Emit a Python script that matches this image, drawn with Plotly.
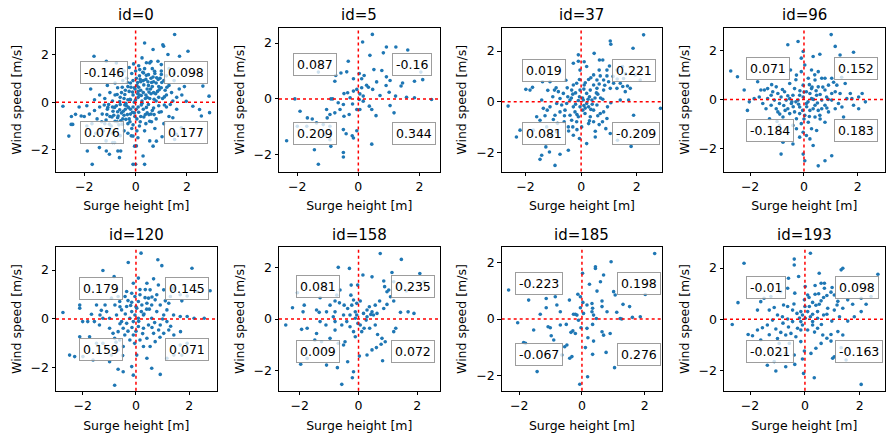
import plotly.graph_objects as go

# ---------------- data ----------------
panel_ids = [0, 5, 37, 96, 120, 158, 185, 193]

# quadrant labels: [top-left, top-right, bottom-left, bottom-right]
labels_id0 = ["-0.146", "0.098", "0.076", "0.177"]
labels_id5 = ["0.087", "-0.16", "0.209", "0.344"]
labels_id37 = ["0.019", "0.221", "0.081", "-0.209"]
labels_id96 = ["0.071", "0.152", "-0.184", "0.183"]
labels_id120 = ["0.179", "0.145", "0.159", "0.071"]
labels_id158 = ["0.081", "0.235", "0.009", "0.072"]
labels_id185 = ["-0.223", "0.198", "-0.067", "0.276"]
labels_id193 = ["-0.01", "0.098", "-0.021", "-0.163"]

tick_values = [-2, 0, 2]

# (surge height [m], wind speed [m/s])
points_id0 = [
    (1.52, 2.83), (0.35, 2.47), (0.68, 2.2), (1.06, 2.4), (2.04, 2.13), (1.71, 1.92), (-1.62, 1.92),
    (-1.14, 1.71), (-0.75, 1.64), (2.62, 0.67), (2.86, 0.25), (2.88, -0.44), (2.49, -0.31), (2.23, -0.17),
    (1.97, 0.04), (-2.83, -0.17), (-2.51, -0.93), (-2.6, -1.42), (-2.34, -0.51), (-2.12, -0.58), (-1.88, -2.04),
    (-1.69, -2.6), (-1.14, -2.04), (-0.82, -1.69), (-0.69, -2.04), (-0.58, -2.04), (-0.1, -2.6), (0.0, -2.6),
    (0.35, -2.6), (0.29, -2.25), (0.68, -1.84), (0.81, -1.63), (1.03, -1.45), (1.45, -0.65), (1.78, -1.07),
    (1.52, -1.56), (0.09, -1.49), (-0.1, -1.42), (-0.04, -1.84),
    (1.09, 2.34), (1.26, 1.99), (0.87, 1.71), (0.55, 1.64), (0.16, 1.36), (0.31, 1.22), (0.74, 1.29),
    (1.0, 1.16), (1.0, 1.57), (-2.45, -0.93), (-1.02, -2.18), (-0.63, -2.32), (0.55, -1.62), (1.59, -1.34),
    (2.56, -0.58), (-1.41, -1.9), (-1.15, -1.62), (-0.89, -1.69), (-0.17, -1.41), (0.03, -1.83),
    (0.1, 0.2), (0.2, 0.5), (0.3, 0.9), (0.4, 0.3), (0.5, 0.7), (0.6, 1.0), (0.7, 0.4), (0.8, 0.8),
    (0.9, 0.2), (1.0, 0.6), (1.1, 0.9), (1.2, 0.3), (1.3, 0.7), (0.15, 1.1), (0.25, 0.05), (0.45, 0.55),
    (0.55, 0.15), (0.65, 0.65), (0.75, 1.2), (0.85, 0.45), (0.95, 1.0), (1.05, 0.15), (1.15, 0.5), (1.4, 0.4),
    (1.5, 0.9), (1.6, 0.2), (0.05, 0.7), (0.35, 1.4), (0.2, 0.85), (0.6, 0.35), (0.4, 0.95), (0.8, 0.05),
    (0.3, 0.4), (0.5, 1.15), (0.7, 0.85), (1.0, 1.3), (1.2, 1.1), (0.1, 0.45), (0.9, 0.65), (1.7, 0.55),
    (1.8, 0.3), (0.45, 0.2), (0.15, 0.3), (0.65, 1.4),
    (-0.1, 0.3), (-0.2, 0.8), (-0.3, 0.1), (-0.4, 0.5), (-0.5, 0.9), (-0.6, 0.2), (-0.7, 0.6), (-0.8, 0.3),
    (-0.9, 0.05), (-1.0, 0.4), (-1.2, 0.15), (-0.15, 1.2), (-0.35, 1.0), (-0.25, 0.45), (-0.55, 0.4),
    (-0.05, 0.6), (-0.45, 0.15), (-0.65, 1.1), (-1.1, 0.7), (-1.4, 0.3), (-0.2, 0.1), (-0.8, 0.8),
    (-0.1, 0.9), (-0.3, 0.65),
    (-0.1, -0.2), (-0.2, -0.5), (-0.3, -0.9), (-0.4, -0.3), (-0.5, -0.7), (-0.6, -0.1), (-0.7, -0.4),
    (-0.8, -0.8), (-0.9, -0.2), (-1.0, -0.6), (-1.1, -0.3), (-1.2, -0.9), (-1.3, -0.5), (-1.4, -0.2),
    (-1.5, -0.7), (-1.6, -0.35), (-1.8, -0.5), (-1.9, -0.15), (-0.15, -1.1), (-0.35, -0.15), (-0.45, -1.2),
    (-0.55, -0.45), (-0.65, -0.95), (-0.75, -0.15), (-0.85, -0.55), (-0.95, -1.0), (-1.05, -0.1),
    (-1.15, -0.75), (-1.25, -1.2), (-0.25, -0.7), (-0.05, -0.45), (-0.6, -1.4), (-0.3, -1.3), (-0.1, -0.95),
    (-1.7, -0.9), (-2.0, -0.6), (-0.45, -0.55), (-0.9, -1.3), (-0.2, -0.3), (-0.7, -0.65),
    (0.1, -0.2), (0.2, -0.6), (0.3, -0.3), (0.4, -0.9), (0.5, -0.1), (0.6, -0.5), (0.7, -0.25), (0.8, -0.7),
    (0.9, -0.15), (1.0, -0.4), (1.1, -0.9), (1.2, -0.2), (0.15, -1.0), (0.35, -1.2), (0.55, -0.8),
    (0.25, -0.05), (0.45, -0.45), (1.3, -0.6), (0.75, -1.1), (0.05, -0.7), (0.65, -0.35), (1.6, -0.3),
    (0.0, 0.1), (0.02, -0.3), (-0.02, 0.55), (0.03, 1.0), (0.0, 1.3), (0.05, -1.2), (-0.03, -0.6),
    (0.08, 0.35), (-0.05, 0.0),
    (0.12, 0.62), (0.22, 0.28), (0.32, 0.72), (0.42, 1.12), (0.52, 0.42), (0.62, 0.82), (0.72, 0.12),
    (0.82, 1.02), (0.92, 0.52), (1.02, 0.82), (1.12, 0.22), (1.22, 0.62), (0.18, 0.95), (0.28, 1.25),
    (0.38, 0.15), (0.48, 0.85), (0.58, 0.55), (0.68, 1.05), (0.78, 0.35), (0.88, 0.95), (-0.12, 0.42),
    (-0.22, 0.12), (-0.32, 0.82), (-0.42, 0.32), (-0.52, 0.62), (-0.62, 0.02), (-0.72, 0.32), (-0.18, 0.62),
    (-0.38, -0.05), (-0.12, -0.42), (-0.22, -0.82), (-0.32, -0.52), (-0.42, -0.12), (-0.52, -0.92),
    (-0.62, -0.32), (-0.72, -0.82), (-0.82, -0.22), (-0.92, -0.62), (-1.02, -0.92), (-1.12, -0.52),
    (-1.22, -0.12), (-1.32, -0.82), (-0.28, -0.22), (-0.48, -0.38), (-0.68, -0.58), (-0.88, -0.38),
    (-1.08, -0.22), (-0.38, -0.72), (-0.58, -0.78), (0.12, -0.42), (0.22, -0.12), (0.32, -0.62),
    (0.42, -0.22), (0.52, -0.52), (0.62, -0.82), (0.72, -0.52), (0.92, -0.42), (1.12, -0.12), (0.18, -0.82),
    (0.38, -0.52), (0.08, 0.82), (0.12, 1.52), (-0.08, 1.6), (0.42, 1.65), (0.6, 1.7), (0.25, 1.85),
    (-0.25, 1.45), (-0.45, 1.3), (1.3, 1.4), (1.5, 1.2), (1.45, 0.05), (1.9, 0.65), (1.35, -0.1),
    (-1.35, -1.1), (-1.55, -1.3), (-1.9, -1.0), (-2.2, -0.2), (-1.6, 0.1), (-1.75, 0.55), (-2.5, -0.6),
]

points_id5 = [
    (0.46, 2.31), (0.14, 2.04), (1.23, 1.86), (0.92, 1.86), (0.82, 1.65), (1.62, 1.75), (0.38, 1.56),
    (-0.33, 1.35), (-0.38, 0.97), (-0.57, 0.93), (-1.31, 0.96), (0.51, 1.05), (0.77, 1.02), (0.03, 0.91),
    (0.19, 0.84), (0.11, 0.72), (-0.16, 0.72), (-0.74, 0.84), (-0.77, 0.63), (0.92, 0.79), (1.04, 0.66),
    (0.6, 0.61), (0.27, 0.49), (0.33, 0.42), (0.11, 0.4), (-0.05, 0.34), (-0.16, 0.28), (-0.35, 0.22),
    (-0.47, 0.19), (0.05, 0.18), (0.47, 0.34), (0.91, 0.48), (0.71, 0.12), (1.01, 0.24), (1.4, 0.46),
    (1.45, 0.57), (1.84, 0.63), (2.11, 0.69), (2.05, 0.96), (2.4, -0.02), (1.84, 0.04), (1.58, 0.06),
    (1.22, 0.1), (1.17, -0.5), (1.04, -0.24), (0.44, -0.38), (0.58, -0.6), (0.36, -0.26), (0.16, -0.08),
    (-0.05, -0.38), (-0.19, -0.18), (-0.49, -0.2), (-0.66, -0.14), (-0.9, 0.0), (-0.6, -0.38),
    (-0.47, -0.62), (-0.3, -0.56), (-0.77, -0.5), (-0.93, -0.56), (-1.02, -0.68), (-1.04, -0.38),
    (-1.51, -0.72), (-1.67, -0.68), (-1.91, -0.44), (-2.08, 0.0), (-2.35, -1.5), (-2.0, -0.98),
    (-1.69, -0.98), (-1.37, -0.86), (-1.15, -0.92), (-0.93, -0.98), (-1.09, -1.28), (-0.93, -1.46),
    (-0.9, -1.7), (-1.44, -1.82), (-1.31, -2.34), (-0.49, -1.1), (-0.4, -1.25), (-0.2, -1.32),
    (-0.16, -1.4), (-0.49, -1.92), (-0.49, -2.08), (0.44, -1.62), (-0.05, -1.14), (0.05, -0.38),
    (0.03, -0.02), (0.16, 0.1), (-0.84, 0.0), (-0.27, 0.04),
]

points_id37 = [
    (2.25, 2.64), (1.05, 2.4), (1.07, 2.27), (1.87, 2.11), (0.47, 1.91), (-0.1, 1.85), (0.66, 1.65),
    (0.78, 1.65), (-0.28, 1.52), (0.11, 1.58), (1.02, 1.41), (1.49, 1.39), (1.29, 1.25), (2.13, 0.86),
    (1.95, 1.06), (1.67, 0.62), (1.53, 0.92), (1.41, 0.73), (1.77, 0.53), (2.86, -0.26), (1.89, -0.53),
    (1.8, -1.76), (1.31, -1.52), (1.05, -1.25), (0.89, -1.06), (0.77, -0.79), (0.51, -1.39), (0.51, -1.16),
    (0.2, -1.65), (-0.06, -1.45), (-0.28, -1.32), (-0.3, -0.99), (-0.46, -0.99), (-0.88, -1.19),
    (-1.06, -1.32), (-1.27, -1.78), (-1.42, -2.11), (-1.48, -2.27), (-1.14, -1.98), (-0.94, -2.51),
    (-0.46, -1.91), (-0.76, -2.07), (-2.33, -1.39), (-2.2, -1.12), (-2.63, -0.17), (-1.99, 0.49),
    (-1.84, 0.46), (-1.75, 0.57), (-1.39, 0.79), (-1.42, 0.07), (-1.6, -0.59), (-1.48, -0.73),
    (-1.72, -1.12), (-1.24, -0.99), (-1.02, 0.2), (-0.96, 0.46), (-0.82, 0.4), (-0.76, 0.13), (-0.64, 0.33),
    (-0.48, 0.2), (-0.4, 0.07), (-0.34, 0.46), (-0.28, 0.66), (-0.16, 0.73), (-0.06, 0.88), (-0.04, 0.46),
    (-0.06, 0.2), (-0.04, -0.2), (0.06, -0.33), (0.14, -0.46), (0.27, -0.2), (0.33, -0.59), (0.45, -0.33),
    (0.57, -0.13), (0.69, -0.46), (0.81, -0.4), (0.93, -0.66), (1.07, -0.04), (1.41, 0.07), (1.71, 0.07),
    (0.2, 0.33), (0.33, 0.46), (0.45, 0.66), (0.57, 0.86), (0.69, 1.02), (0.81, 0.86), (0.93, 1.02),
    (0.45, 1.06), (0.27, 0.88), (0.57, 0.53), (0.81, 0.46), (1.05, 0.53), (0.99, 0.79), (1.17, 0.73),
    (0.11, 0.66), (0.08, 0.07), (0.2, -0.07), (0.39, 0.07), (-0.22, -0.4), (-0.4, -0.53), (-0.58, -0.33),
    (-0.76, -0.4), (-0.94, -0.53), (-1.12, -0.2), (-0.61, -0.79), (-0.34, -0.73), (-0.16, -0.79),
    (-0.1, -0.59), (0.02, -0.99), (0.27, -0.86), (0.45, -0.79), (-0.52, -0.07), (-0.7, -0.13),
    (-0.28, -0.2), (-0.88, -0.07), (-1.22, -0.33), (-1.36, -0.26), (0.2, 1.39), (-0.04, 1.25),
    (0.93, 1.25), (1.29, 0.53), (1.59, 0.4), (-1.48, 1.19), (-1.12, 0.79), (0.78, 0.1),
    (0.3, 0.2), (0.6, 0.3), (-0.2, 0.35), (0.15, -0.25), (0.4, -0.1), (-0.5, 0.55), (0.65, 0.7),
    (0.35, 0.95), (-0.15, -0.5), (0.1, 0.5), (0.5, 0.15), (-0.3, 0.3),
    (0.05, 0.15), (0.1, -0.15), (-0.1, 0.05), (0.25, 0.1), (0.35, -0.3), (-0.2, -0.1), (-0.35, 0.15),
    (0.55, 0.35), (0.7, 0.15), (0.15, 0.75), (0.85, 0.65), (1.15, 1.0), (1.3, 0.9), (1.5, 0.6),
    (0.6, -0.55), (0.3, -0.75), (-0.6, -0.55), (-0.85, -0.85), (-1.0, -0.7), (-1.3, -0.55), (-0.45, -1.15),
    (-0.15, -1.1), (0.65, -0.9), (0.95, -0.2), (-0.55, 0.85), (-0.9, 0.55), (-1.2, 0.45), (-0.1, 1.6),
    (0.65, 1.25), (1.6, 1.1),
]

points_id96 = [
    (1.01, 2.64), (-0.6, 2.23), (-0.22, 2.36), (-0.03, 1.95), (0.34, 1.75), (0.59, 1.84), (1.16, 2.16),
    (1.34, 1.81), (1.84, 1.92), (-2.72, 1.16), (-2.47, 0.92), (-2.22, 0.38), (-1.72, 0.72), (-1.47, 0.38),
    (-1.35, 0.44), (-1.16, 0.31), (-1.03, 0.51), (-1.85, 0.03), (-2.03, -0.1), (-2.1, -0.45), (-1.66, 0.1),
    (-1.78, -1.2), (-1.28, -0.79), (-0.97, -0.51), (-0.78, -0.72), (-0.91, -1.06), (-0.78, -1.75),
    (-0.85, -2.23), (-0.41, -1.82), (-0.28, -1.2), (-0.03, -2.23), (0.03, -2.5), (0.53, -2.71),
    (0.78, -2.5), (1.03, -2.3), (0.34, -1.88), (0.22, -1.61), (0.47, -1.27), (0.78, -0.93), (1.47, -0.72),
    (0.91, -0.51), (0.66, -0.38), (1.41, -0.31), (1.78, 0.03), (2.03, 0.1), (1.72, 0.24), (2.16, 0.24),
    (2.28, -0.1), (1.53, 0.65), (1.16, 0.31), (0.91, 0.58), (0.78, 0.86), (0.53, 1.13), (0.28, 1.2),
    (0.16, 0.86), (-0.1, 1.13), (0.03, 1.4), (-0.28, 0.99), (-0.53, 0.65), (-0.72, 0.31), (-0.41, 0.17),
    (-0.22, -0.03), (-0.47, -0.17), (-0.66, -0.03), (-0.91, -0.17), (-0.6, -0.38), (-0.35, -0.51),
    (-0.16, -0.31), (0.09, -0.17), (0.28, 0.03), (0.47, 0.17), (0.66, -0.03), (0.41, -0.24), (0.22, -0.45),
    (0.03, -0.65), (-0.1, -0.99), (0.16, -0.93), (0.41, -0.72), (0.59, -0.65), (0.78, -0.24), (1.03, -0.03),
    (1.03, 0.24), (0.78, 0.38), (0.53, 0.51), (0.28, 0.44), (0.09, 0.31), (-0.03, 0.58), (-0.35, 0.44),
    (-0.16, 0.17), (-0.85, 0.1), (-1.1, -0.03), (-1.22, -0.24), (-1.41, -0.38), (-1.53, -0.17),
    (-1.03, -0.38), (-0.53, -0.58), (-0.28, -0.79), (-0.03, -1.34), (0.09, -1.47), (-0.16, -1.54),
    (0.28, -1.2), (1.16, -0.38), (1.28, -0.17), (1.34, 0.24), (1.22, 0.58), (1.03, 0.86), (0.66, 0.86),
    (0.41, 0.79), (1.59, 0.03), (1.84, -0.24), (-1.6, 0.38), (-1.22, 0.17), (-0.97, 0.24), (-1.35, 0.03),
    (-0.66, -1.2), (-0.41, -1.06), (-0.16, -0.58), (0.34, -0.38), (0.53, -0.45), (0.84, 0.1), (0.22, 0.24),
    (-0.03, 0.1), (-0.53, 0.03), (2.03, -0.38), (-0.1, 1.68),
    (-0.2, -0.2), (0.1, -0.3), (-0.4, -0.3), (0.6, 0.2), (-0.75, -0.25), (0.35, 0.0), (-0.05, -0.45),
    (0.2, 0.6), (-0.6, 0.15), (0.5, -0.15), (-0.3, -0.1), (0.0, -0.8), (0.7, 0.5),
    (0.0, 0.3), (0.15, -0.1), (-0.15, 0.35), (0.3, 0.5), (-0.45, -0.1), (0.45, 0.35), (-0.8, 0.4),
    (-0.9, -0.6), (0.6, -0.8), (0.9, 0.0), (-1.2, 0.6), (1.1, 0.7), (0.2, -0.7), (-0.3, 0.8), (-0.5, 1.2),
    (1.4, 0.9), (-1.0, -0.9), (0.4, 1.0), (-0.7, -0.45), (0.85, -0.35),
]

points_id120 = [
    (0.19, 2.69), (-0.29, 2.31), (0.82, 2.42), (0.97, 2.18), (2.1, 2.07), (-1.24, 1.98), (-0.82, 1.73),
    (0.66, 1.64), (0.41, 1.46), (0.84, 1.39), (1.41, 1.26), (1.04, 1.19), (1.66, 0.99), (1.92, 0.94),
    (1.72, 0.74), (1.29, 0.92), (1.1, 0.74), (-2.74, 0.26), (-2.11, 0.57), (-2.11, 0.44), (-1.48, 0.57),
    (-1.67, 0.19), (-1.35, 0.16), (-1.16, 0.57), (-1.1, 0.3), (-0.79, 0.57), (-0.67, 0.92), (-0.41, 0.92),
    (-0.16, 1.05), (-0.04, 0.92), (0.15, 0.99), (0.34, 0.87), (0.47, 0.85), (0.09, 0.71), (-0.16, 0.68),
    (-0.35, 0.51), (-0.54, 0.37), (-0.73, 0.16), (-0.16, 0.3), (0.03, 0.44), (0.22, 0.57), (0.41, 0.64),
    (0.59, 0.57), (0.72, 0.78), (0.91, 0.57), (0.78, 0.3), (1.04, 0.16), (1.16, 0.37), (1.41, 0.16),
    (1.66, 0.1), (1.92, 0.1), (2.18, 0.03), (2.56, 0.03), (2.78, 1.15), (2.3, 1.12), (1.35, 1.12),
    (0.28, 0.16), (0.47, -0.25), (0.28, -0.38), (0.09, -0.31), (-0.1, -0.11), (-0.35, -0.18),
    (-0.48, -0.38), (-0.67, -0.52), (-0.86, -0.59), (-0.99, -0.38), (-1.37, -0.25), (-1.56, -0.11),
    (-1.81, -0.11), (-2.0, -0.11), (-0.8, -0.79), (-0.61, -0.86), (-0.42, -0.66), (-0.23, -0.86),
    (-0.1, -0.66), (0.15, -0.86), (0.41, -0.79), (0.66, -0.59), (0.85, -0.45), (1.04, -0.59),
    (1.23, -0.45), (1.42, -0.66), (1.67, -0.52), (0.72, -0.93), (0.53, -1.13), (0.28, -1.13), (0.41, -1.61),
    (0.03, -1.48), (0.59, -2.02), (0.91, -2.27), (-0.16, -1.95), (-0.1, -2.3), (-0.67, -2.06),
    (-0.48, -2.16), (-0.8, -2.71), (-0.99, -1.75), (-0.92, -1.48), (-1.61, -1.68), (-2.49, -1.48),
    (-2.3, -1.54), (-1.99, -1.54), (-2.11, -0.73), (-1.74, -0.73), (-1.48, -1.0), (-1.24, -1.0),
    (-1.11, -1.2), (-0.67, -1.27), (-0.48, -1.13), (0.09, 0.03), (-0.04, 0.16), (-0.23, 0.03),
    (-0.54, -0.11), (-0.99, 0.03), (-1.24, 0.03), (1.16, -1.61), (1.42, -1.48), (1.72, -1.48),
    (1.92, -1.0), (1.66, -1.07), (0.91, -0.25), (1.16, -0.11), (0.59, 0.03), (-0.35, 1.12), (-0.61, 0.71),
    (-0.92, 0.85), (0.53, 1.19), (0.78, 0.99), (1.23, 0.64), (-0.1, 1.46), (0.09, 1.67),
    (0.2, 0.3), (-0.3, -0.5), (0.4, 0.4), (-0.6, 0.5), (0.0, -0.5), (0.6, -0.35), (-0.2, 0.55),
    (0.0, 0.5), (0.1, -0.1), (-0.15, -0.35), (0.3, 0.2), (-0.4, 0.2), (0.5, 0.4), (0.25, -0.6),
    (-0.6, -0.2), (0.7, -0.15), (-0.3, 0.75), (0.35, 1.2), (-0.75, -0.95), (0.9, -0.75), (1.3, -0.3),
    (-1.3, 0.35), (0.6, 0.9), (-0.05, -1.0), (0.15, 1.2), (-0.5, -1.5), (1.0, 0.0),
]

points_id158 = [
    (0.74, 2.55), (1.46, 2.32), (-0.69, 2.01), (-0.31, 1.97), (0.15, 1.71), (0.46, 1.64), (0.86, 1.48),
    (1.14, 1.81), (2.09, 1.77), (2.23, 1.45), (1.63, 1.09), (0.89, 1.26), (0.97, 1.06), (1.09, 0.87),
    (0.72, 0.7), (0.57, 0.54), (0.37, 0.48), (0.06, 0.7), (-0.03, 1.32), (-0.25, 1.32), (-0.26, 0.93),
    (-0.63, 1.13), (-1.31, 0.83), (-2.08, 1.02), (-2.25, 0.44), (-1.85, 0.54), (-1.43, 0.35), (-1.34, 0.26),
    (-1.09, 0.28), (-0.97, 0.54), (-0.8, 0.7), (-0.65, 0.63), (-0.49, 0.54), (-0.37, 0.41), (-0.23, 0.54),
    (-0.11, 0.28), (-0.06, 0.16), (0.17, 0.22), (0.29, 0.09), (0.42, 0.18), (0.51, 0.16), (0.63, 0.22),
    (0.86, 0.41), (0.97, 0.57), (1.2, 0.7), (1.43, 0.26), (1.69, 0.28), (1.89, 0.22), (-2.48, -0.23),
    (-1.94, -0.4), (-1.97, -1.76), (-1.75, -1.53), (-1.43, -0.56), (-1.31, -0.1), (-1.11, -0.23),
    (-0.8, -0.43), (-0.4, -0.1), (-0.29, -0.3), (-0.17, -0.49), (-0.11, -0.69), (0.06, -0.23), (0.19, -0.36),
    (0.11, -0.49), (0.26, -0.04), (0.38, -0.36), (0.57, -0.23), (0.65, -0.6), (0.8, -0.75), (0.91, -0.88),
    (0.77, -0.98), (0.61, -1.11), (0.46, -1.2), (0.29, -1.4), (0.82, -1.62), (1.2, -0.49), (1.27, -0.36),
    (-0.51, -1.01), (-0.46, -0.88), (-0.69, -0.94), (-1.09, -1.79), (-0.72, -1.89), (-0.37, -1.66),
    (-0.17, -2.05), (-0.21, -2.28), (-0.57, -2.54), (0.03, -1.44), (-1.49, -0.82), (-1.26, -0.88),
    (-0.97, -0.75), (-0.02, -0.17), (-0.11, 0.03), (-0.29, 0.16), (-0.51, 0.16), (-0.8, 0.28),
    (-0.86, 0.09), (-0.17, 0.74), (-0.06, 0.61), (0.29, 0.35), (0.46, 0.28), (-0.57, -0.23), (-0.8, -0.1),
    (1.2, 1.45), (1.03, 1.13), (-0.74, 0.93), (-1.89, 0.28), (-1.75, -0.36),
]

points_id185 = [
    (2.32, 2.32), (0.93, 2.03), (0.43, 1.85), (0.43, 1.79), (0.69, 1.56), (0.02, 1.62), (0.59, 1.32),
    (0.24, 1.23), (0.48, 0.99), (1.01, 0.97), (1.06, 0.85), (2.02, 0.87), (-2.34, 1.03), (-1.7, 0.67),
    (-1.14, 0.73), (-0.85, 0.79), (-0.4, 0.67), (-0.13, 0.88), (-0.05, 0.79), (0.03, 0.59), (0.16, 0.5),
    (0.32, 0.55), (0.34, 0.38), (0.64, 0.64), (0.64, 0.44), (0.8, 0.26), (1.31, 0.52), (1.52, 0.44),
    (1.11, 0.24), (1.22, 0.02), (1.27, 0.0), (1.61, 0.06), (0.46, 0.02), (0.37, 0.14), (0.05, 0.2),
    (-0.21, 0.17), (-0.27, 0.17), (-0.8, 0.5), (-0.69, 0.26), (-1.14, 0.4), (-1.33, 0.17), (-1.08, -0.27),
    (-1.01, -0.31), (-0.69, -0.21), (-0.5, -0.19), (-0.11, -0.04), (-0.29, -0.42), (-0.21, -0.51),
    (-0.35, -0.47), (-0.03, -0.31), (0.16, -0.33), (0.34, -0.19), (0.64, -0.45), (0.69, -0.57),
    (0.9, -0.51), (0.19, -0.66), (0.37, -0.78), (0.11, -1.01), (0.34, -1.25), (0.77, -1.18), (1.04, -1.72),
    (0.18, -2.04), (-0.07, -2.31), (-0.39, -1.39), (-0.32, -1.33), (-0.55, -0.98), (-0.48, -0.92),
    (-0.64, -1.27), (-0.98, -0.59), (-0.9, -0.74), (-1.54, -0.39), (-1.86, -0.83), (-1.43, -1.86),
    (-2.05, -0.13), (-1.8, -0.86), (-0.05, 0.4), (-0.16, 0.14), (0.32, 0.26), (1.86, 0.08),
]

points_id193 = [
    (0.2, 2.58), (-2.22, 2.19), (-0.39, 2.35), (-0.39, 2.12), (1.32, 1.93), (1.38, 1.99), (0.52, 1.8),
    (-0.23, 1.67), (-0.6, 1.6), (2.66, 1.76), (0.01, 1.28), (0.37, 1.32), (0.59, 1.41), (0.71, 1.41),
    (0.95, 1.06), (1.07, 0.95), (0.8, 0.93), (0.68, 0.85), (0.37, 0.98), (0.1, 0.95), (-0.02, 0.76),
    (-0.37, 1.02), (-0.88, 1.08), (-1.49, 0.82), (-1.61, 0.69), (-2.44, 0.65), (-2.65, -0.2), (-1.73, 0.36),
    (-1.3, 0.36), (-1.12, 0.46), (-0.78, 0.56), (-0.63, 0.5), (-0.45, 0.36), (-0.29, 0.23), (-0.15, 0.3),
    (0.16, 0.5), (0.28, 0.66), (0.52, 0.59), (0.59, 0.72), (0.83, 0.43), (1.07, 0.36), (1.38, 0.43),
    (1.74, 0.59), (2.23, 0.59), (2.05, 0.3), (1.8, 0.1), (1.56, -0.07), (1.26, 0.1), (0.98, -0.07),
    (0.68, 0.17), (0.46, 0.04), (0.28, 0.2), (0.01, 0.04), (-0.15, -0.09), (-0.09, -0.22), (-0.27, -0.35),
    (-0.45, -0.09), (-0.63, 0.01), (-0.82, 0.1), (-1.0, 0.17), (-1.18, -0.03), (-1.37, -0.22),
    (-1.55, -0.33), (-1.73, -0.42), (-1.91, -0.64), (-2.07, -0.59), (-1.06, -0.38), (-0.88, -0.51),
    (-0.7, -0.61), (-0.51, -0.55), (-0.33, -0.68), (-0.15, -0.42), (0.1, -0.42), (0.28, -0.22),
    (0.46, -0.35), (0.65, -0.61), (0.8, -0.74), (0.95, -0.59), (1.2, -0.48), (1.38, -0.61), (0.95, -0.85),
    (0.59, -0.94), (0.4, -1.13), (0.22, -1.33), (-0.02, -1.24), (-0.09, -1.55), (-0.37, -1.76),
    (-0.39, -1.39), (-0.7, -1.33), (-0.88, -1.39), (-1.12, -1.65), (-1.37, -1.79), (-1.06, -2.02),
    (-0.7, -1.85), (-0.05, -2.11), (0.34, -2.28), (2.05, -2.54), (1.01, -1.52), (1.32, -1.11),
    (1.5, -1.59), (1.07, -1.46), (-0.94, -0.94), (-0.57, -0.94), (-0.15, -0.87), (-1.61, -0.81),
    (0.1, 0.3), (-0.09, 0.17), (0.46, 0.3), (0.28, -0.09), (2.05, 0.82), (2.41, 0.89), (1.56, 0.76),
    (1.17, 0.56), (0.99, 1.24), (0.71, 1.21), (-0.63, 1.21), (-1.24, 0.89),
    (0.0, 0.5), (0.2, 0.1), (-0.2, 0.05), (0.35, -0.5), (-0.4, 0.6), (0.6, -0.2), (-0.6, -0.3),
    (0.8, 0.2), (-0.8, -0.15), (0.15, 0.85), (0.5, 1.0), (-1.3, -0.6), (-1.0, -0.75), (1.2, 0.7), (0.4, 0.55),
]

all_points = [points_id0, points_id5, points_id37, points_id96,
              points_id120, points_id158, points_id185, points_id193]
all_labels = [labels_id0, labels_id5, labels_id37, labels_id96,
              labels_id120, labels_id158, labels_id185, labels_id193]

# ---------------- layout (pixel geometry of the reference) ----------------
W, H = 886, 433
col_left = [56, 279, 501.7, 724]
col_width = 160.5
row_top = [28, 247.3]
row_height = 143.5

x_ranges = [(-3.1, 3.15), (-2.6, 2.66), (-2.86, 2.92), (-2.97, 2.99),
            (-3.0, 3.02), (-2.71, 2.76), (-2.56, 2.56), (-2.95, 2.9)]
y_ranges = [(-2.9, 3.1), (-2.6, 2.54), (-2.75, 2.91), (-2.94, 2.91),
            (-2.94, 2.93), (-2.79, 2.79), (-2.54, 2.54), (-2.79, 2.81)]

FONT = "DejaVu Sans"
BLUE = "#1f77b4"

fig = go.Figure()
layout = dict(
    width=W, height=H,
    margin=dict(l=0, r=0, t=0, b=0),
    paper_bgcolor="white", plot_bgcolor="white",
    showlegend=False,
    font=dict(family=FONT, size=12.5, color="black"),
)
annotations = []
shapes = []

for i, pid in enumerate(panel_ids):
    r, c = divmod(i, 4)
    n = "" if i == 0 else str(i + 1)
    x0 = col_left[c] / W
    x1 = (col_left[c] + col_width) / W
    y1 = 1 - row_top[r] / H
    y0 = 1 - (row_top[r] + row_height) / H
    pts = all_points[i]
    fig.add_trace(go.Scatter(
        x=[p[0] for p in pts], y=[p[1] for p in pts],
        mode="markers",
        marker=dict(color=BLUE, size=3.6, line=dict(width=0)),
        xaxis="x" + n, yaxis="y" + n, hoverinfo="skip",
    ))
    axis_common = dict(
        showline=True, linecolor="black", linewidth=1, mirror=True,
        showgrid=False, zeroline=False, ticks="outside", ticklen=3.5,
        tickwidth=1, tickcolor="black", tickvals=tick_values,
        tickfont=dict(family=FONT, size=12.5, color="black"),
        automargin=False,
    )
    layout["xaxis" + n] = dict(
        axis_common, domain=[x0, x1], anchor="y" + n, range=list(x_ranges[i]),
        title=dict(text="Surge height [m]", font=dict(family=FONT, size=12.5), standoff=8),
    )
    layout["yaxis" + n] = dict(
        axis_common, domain=[y0, y1], anchor="x" + n, range=list(y_ranges[i]),
        title=dict(text="Wind speed [m/s]", font=dict(family=FONT, size=12.5), standoff=6),
    )
    # red dotted cross-hair at zero
    shapes.append(dict(type="line", xref="x" + n, yref="y" + n + " domain",
                       x0=0, x1=0, y0=0, y1=1,
                       line=dict(color="red", width=1.5, dash="dot")))
    shapes.append(dict(type="line", xref="x" + n + " domain", yref="y" + n,
                       x0=0, x1=1, y0=0, y1=0,
                       line=dict(color="red", width=1.5, dash="dot")))
    # subplot title
    annotations.append(dict(text="id=%d" % pid, xref="paper", yref="paper",
                            x=(x0 + x1) / 2, y=y1 + 12.5 / H, xanchor="center", yanchor="middle",
                            showarrow=False, font=dict(family=FONT, size=15, color="black")))
    # quadrant labels
    labs = all_labels[i]
    spots = [(-2.0, 1.25), (1.25, 1.25), (-2.0, -1.25), (1.25, -1.25)]
    for lab, (lx, ly) in zip(labs, spots):
        annotations.append(dict(
            text=lab, xref="x" + n, yref="y" + n, x=lx, y=ly,
            xanchor="left", yanchor="middle", xshift=-4, showarrow=False,
            font=dict(family=FONT, size=12.5, color="black"),
            bgcolor="rgba(255,255,255,0.78)", bordercolor="rgba(140,140,140,0.85)",
            borderwidth=1, borderpad=3,
        ))

layout["annotations"] = annotations
layout["shapes"] = shapes
fig.update_layout(**layout)
fig.write_html("out.html", config={"displayModeBar": False})

# remove the browser's default page margin so the figure sits at the window's corner
with open("out.html", "r", encoding="utf-8") as f:
    html = f.read()
html = html.replace("<head>", "<head><style>html,body{margin:0;padding:0;overflow:hidden;}</style>", 1)
with open("out.html", "w", encoding="utf-8") as f:
    f.write(html)
